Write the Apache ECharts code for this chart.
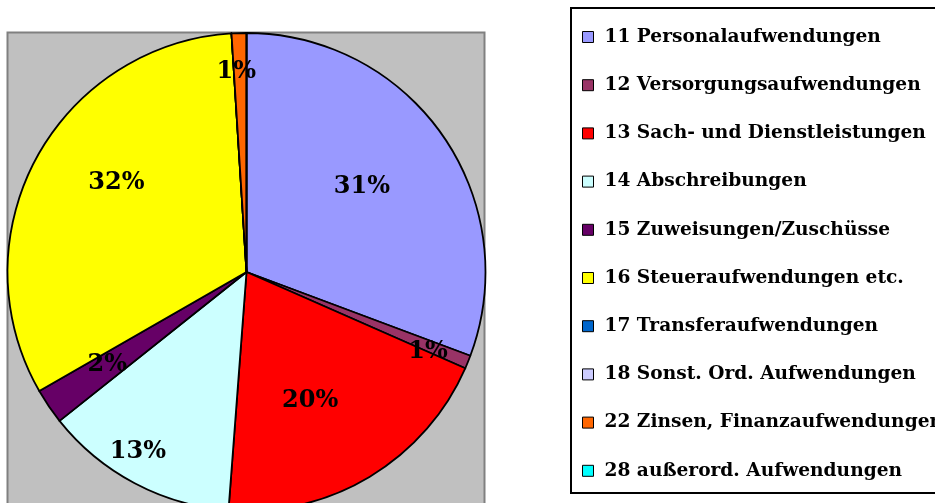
<!DOCTYPE html>
<html>
<head>
<meta charset="utf-8">
<script src="https://cdn.jsdelivr.net/npm/echarts@6/dist/echarts.min.js"></script>
<style>html,body{margin:0;padding:0;background:#fff}#c{width:935px;height:503px}</style>
</head>
<body>
<div id="c"></div>
<script>
var categories = ['11 Personalaufwendungen','12 Versorgungsaufwendungen','13 Sach- und Dienstleistungen','14 Abschreibungen','15 Zuweisungen/Zuschüsse','16 Steueraufwendungen etc.','17 Transferaufwendungen','18 Sonst. Ord. Aufwendungen','22 Zinsen, Finanzaufwendungen','28 außerord. Aufwendungen'];
var values = [30.7, 0.9, 19.6, 13.1, 2.4, 32.3, 0, 0, 1.0, 0];
var colors = ['#9999FF','#993366','#FF0000','#CCFFFF','#660066','#FFFF00','#0066CC','#CCCCFF','#FF6600','#00FFFF'];
// label placement (style): distance as fraction of radius, angular shift in degrees
var labelDist = [0.6, 0.83, 0.6, 0.88, 0.7, 0.66, 0.6, 0.6, 0.84, 0.6];
var labelShift = [-1.7, 1.6, 4.6, 3.2, 0.5, 6.2, 0, 0, -1.1, 0];

var CX = 246.5, CY = 272, R = 239;
var total = values.reduce(function(a,b){return a+b;},0);
var midAngles = [];
(function(){var acc=0;for(var i=0;i<values.length;i++){midAngles.push((acc+values[i]/2)/total*2*Math.PI);acc+=values[i];}})();

var FONT = 'DejaVu Serif';
var chart = echarts.init(document.getElementById('c'));
chart.setOption({
  animation: false,
  graphic: [
    {type:'rect', z:-10, shape:{x:7.5,y:32.5,width:477,height:500}, style:{fill:'#C0C0C0',stroke:'#808080',lineWidth:2}},
    {type:'rect', z:-10, shape:{x:571,y:8,width:400,height:485}, style:{fill:'#fff',stroke:'#000',lineWidth:2}}
  ],
  legend: {
    orient:'vertical', left:577, top:22, itemGap:28.2, itemWidth:11, itemHeight:11,
    icon:'rect', itemStyle:{borderColor:'#000',borderWidth:1},
    textStyle:{fontFamily:FONT,fontWeight:'bold',fontSize:18.6,color:'#000',lineHeight:20,padding:[0,0,0,6]},
    data: categories
  },
  series: [{
    type:'pie', center:[CX,CY], radius:[0,R], startAngle:90, clockwise:true,
    avoidLabelOverlap:false, silent:true,
    itemStyle:{borderColor:'#000',borderWidth:1.8},
    label:{show:true, position:'inside', fontFamily:FONT, fontWeight:'bold', fontSize:24, color:'#000',
      formatter:function(p){return Math.round(p.percent)+'%';}},
    labelLine:{show:false},
    labelLayout:function(p){
      var i=p.dataIndex, a=midAngles[i]+labelShift[i]*Math.PI/180, d=labelDist[i]*R;
      return {x:CX+d*Math.sin(a), y:CY-d*Math.cos(a), align:'center', verticalAlign:'middle'};
    },
    data: categories.map(function(n,i){return {name:n, value:values[i], itemStyle:{color:colors[i]}, label:{show:values[i]>0}};})
  }]
});
</script>
</body>
</html>
